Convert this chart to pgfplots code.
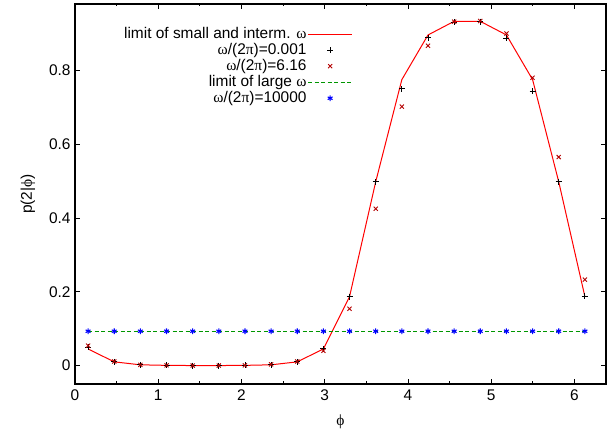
\documentclass[border=0pt]{standalone}
\usepackage{pgfplots}
\pgfplotsset{compat=1.18}
\usepackage{fontspec}
\setmainfont{Liberation Sans}
\newfontfamily\grk{Liberation Serif}
\definecolor{dred}{RGB}{180,0,0}
\definecolor{dgreen}{RGB}{0,150,0}
\begin{document}
\begin{tikzpicture}[x=1bp,y=1bp]
\useasboundingbox (0,0) rectangle (613,437);
\begin{axis}[
  at={(75bp,53bp)}, anchor=south west,
  scale only axis, width=531bp, height=380bp,
  xmin=0, xmax=6.38, ymin=-0.05, ymax=0.98,
  xtick={0,1,2,3,4,5,6}, xticklabels={0,1,2,3,4,5,6},
  minor xtick={0.5,1.5,2.5,3.5,4.5,5.5},
  ytick={0,0.2,0.4,0.6,0.8}, yticklabels={0,0.2,0.4,0.6,0.8},
  tick align=inside,
  major tick length=5bp, minor tick length=2.5bp,
  tick style={black, line width=0.8bp},
  axis line style={line width=1.1bp},
  ticklabel style={font=\fontsize{15.5}{17}\selectfont},
  xticklabel style={yshift=-2bp},
  yticklabel style={xshift=-1bp},
  xlabel={{\grk ϕ}}, ylabel={p(2|{\grk ϕ})},
  label style={font=\fontsize{15.5}{17}\selectfont},
  xlabel style={at={(axis description cs:0.5,-0.1)}, anchor=center},
  ylabel style={at={(axis description cs:-0.0885,0.5)}, anchor=center},
  legend style={draw=none, fill=none, inner sep=0pt, at={(0.5235,0.942)}, anchor=north east,
    font=\fontsize{15.5}{16}\selectfont, row sep=0pt,
    nodes={inner sep=1bp, text height=11bp, text depth=3bp},
    cells={anchor=east}, legend plot pos=right},
  legend cell align=right,
  legend image code/.code={\draw[mark repeat=2,mark phase=2,#1] plot coordinates {(0bp,0bp) (22bp,0bp) (44bp,0bp)};},
]
\addplot[red, line width=1bp, mark=none] coordinates {
(0.1571,0.045) (0.4712,0.010) (0.7854,0.002) (1.0996,0.0005) (1.4137,0.0) (1.7279,0.0) (2.0420,0.0005) (2.3562,0.002) (2.6704,0.010) (2.9845,0.045) (3.2987,0.187) (3.6128,0.498) (3.9270,0.775) (4.2412,0.896) (4.5553,0.933) (4.8695,0.933) (5.1836,0.896) (5.4978,0.775) (5.8119,0.498) (6.1261,0.187)};
\addlegendentry{limit of small and interm. {\grk ω}}
\addplot[only marks, black, mark=+, mark size=3bp, mark options={line width=0.9bp}] coordinates {
(0.1571,0.050) (0.4712,0.010) (0.7854,0.002) (1.0996,0.0005) (1.4137,0.0) (1.7279,0.0) (2.0420,0.0005) (2.3562,0.002) (2.6704,0.010) (2.9845,0.045) (3.2987,0.187) (3.6128,0.498) (3.9270,0.750) (4.2412,0.889) (4.5553,0.930) (4.8695,0.932) (5.1836,0.887) (5.4978,0.744) (5.8119,0.498) (6.1261,0.188)};
\addlegendentry{{\grk ω}/(2{\grk π})=0.001}
\addplot[only marks, dred, mark=x, mark size=2.9bp, mark options={line width=0.9bp}] coordinates {
(0.1571,0.054) (0.4712,0.011) (0.7854,0.002) (1.0996,0.0005) (1.4137,0.0) (1.7279,0.0) (2.0420,0.0005) (2.3562,0.003) (2.6704,0.011) (2.9845,0.040) (3.2987,0.154) (3.6128,0.425) (3.9270,0.702) (4.2412,0.867) (4.5553,0.932) (4.8695,0.934) (5.1836,0.900) (5.4978,0.780) (5.8119,0.565) (6.1261,0.233)};
\addlegendentry{{\grk ω}/(2{\grk π})=6.16}
\addplot[color=dgreen, line width=1.3bp, dash pattern=on 4bp off 2.5bp, mark=none] coordinates {
(0.1571,0.093) (6.1261,0.093)};
\addlegendentry{limit of large {\grk ω}}
\addplot[only marks, color=blue, mark=asterisk, mark size=2.8bp, mark options={line width=1.1bp, solid}] coordinates {
(0.1571,0.093) (0.4712,0.093) (0.7854,0.093) (1.0996,0.093) (1.4137,0.093) (1.7279,0.093) (2.0420,0.093) (2.3562,0.093) (2.6704,0.093) (2.9845,0.093) (3.2987,0.093) (3.6128,0.093) (3.9270,0.093) (4.2412,0.093) (4.5553,0.093) (4.8695,0.093) (5.1836,0.093) (5.4978,0.093) (5.8119,0.093) (6.1261,0.093)};
\addlegendentry{{\grk ω}/(2{\grk π})=10000}
\end{axis}
\end{tikzpicture}
\end{document}
